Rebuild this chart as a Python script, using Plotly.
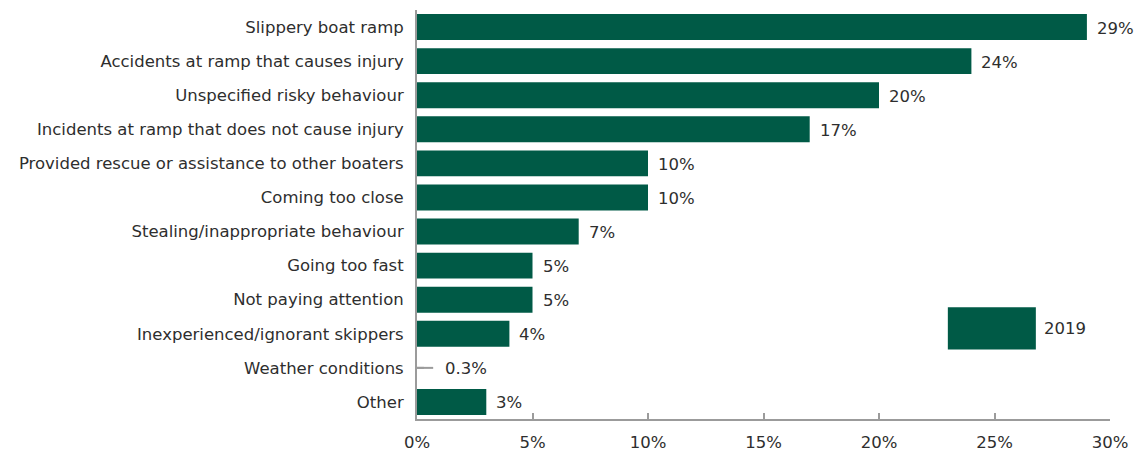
import plotly.graph_objects as go

categories = [
    "Slippery boat ramp",
    "Accidents at ramp that causes injury",
    "Unspecified risky behaviour",
    "Incidents at ramp that does not cause injury",
    "Provided rescue or assistance to other boaters",
    "Coming too close",
    "Stealing/inappropriate behaviour",
    "Going too fast",
    "Not paying attention",
    "Inexperienced/ignorant skippers",
    "Weather conditions",
    "Other",
]
values_2019 = [29, 24, 20, 17, 10, 10, 7, 5, 5, 4, 0.3, 3]
value_labels = ["29%", "24%", "20%", "17%", "10%", "10%", "7%", "5%", "5%", "4%", "0.3%", "3%"]
tick_values = [0, 5, 10, 15, 20, 25, 30]
tick_labels = ["0%", "5%", "10%", "15%", "20%", "25%", "30%"]
series_name = "2019"

GREEN = "#005a46"
GREY = "#9b9b9b"
TEXT = "#2e2e2e"
FONT = "DejaVu Sans"
SIZE = 16.5

# the tiny weather value is shown as a thin grey stub
small = [v < 1 for v in values_2019]
bar_colors = [GREY if s else GREEN for s in small]
bar_widths = [0.06 if s else 0.76 for s in small]

fig = go.Figure()
fig.add_trace(go.Bar(
    y=categories,
    x=values_2019,
    orientation="h",
    name=series_name,
    marker=dict(color=bar_colors, line=dict(width=0)),
    width=bar_widths,
    showlegend=False,
))

# value labels beside each bar
for cat, val, lab, s in zip(categories, values_2019, value_labels, small):
    fig.add_annotation(
        x=val, y=cat, xref="x", yref="y",
        text=lab, showarrow=False,
        xanchor="left", yanchor="middle",
        xshift=19 if s else 8, yshift=-1,
        font=dict(family=FONT, size=SIZE, color=TEXT),
    )

# leader stub for the weather value
fig.add_shape(
    type="line", xref="x", yref="y",
    x0=0, x1=0.7, y0="Weather conditions", y1="Weather conditions",
    line=dict(color=GREY, width=2),
)

# legend swatch and label
fig.add_shape(
    type="rect", xref="paper", yref="paper",
    x0=0.766, x1=0.893, y0=0.170, y1=0.273,
    fillcolor=GREEN, line=dict(width=0),
)
fig.add_annotation(
    x=0.902, y=0.222, xref="paper", yref="paper",
    text=series_name, showarrow=False, xanchor="left", yanchor="middle",
    font=dict(family=FONT, size=SIZE, color=TEXT),
)

fig.update_layout(
    width=1135, height=452,
    margin=dict(l=417, r=25, t=10, b=33),
    paper_bgcolor="white", plot_bgcolor="white",
    font=dict(family=FONT, size=SIZE, color=TEXT),
    bargap=0.24,
)
fig.update_xaxes(
    range=[0, 30],
    tickvals=tick_values, ticktext=tick_labels,
    ticks="inside", ticklen=6, tickwidth=2, tickcolor=GREY,
    showline=True, linecolor=GREY, linewidth=2,
    showgrid=False, zeroline=False,
    ticklabelstandoff=7, automargin=False,
    tickfont=dict(family=FONT, size=SIZE, color=TEXT),
)
fig.update_yaxes(
    categoryorder="array", categoryarray=categories,
    autorange="reversed",
    showline=True, linecolor=GREY, linewidth=2,
    showgrid=False, zeroline=False,
    ticks="", ticklabelstandoff=8, automargin=False,
    tickfont=dict(family=FONT, size=SIZE, color=TEXT),
)

fig.write_html("out.html")
